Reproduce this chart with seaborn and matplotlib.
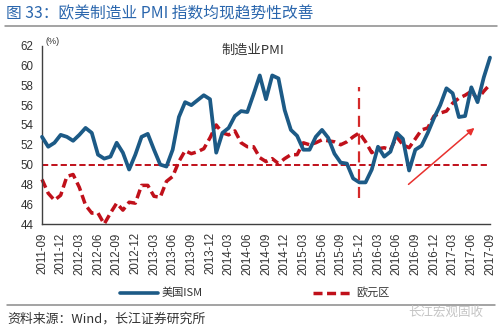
import numpy as np
import pandas as pd
import matplotlib
matplotlib.use("Agg")
import matplotlib.pyplot as plt
from matplotlib.lines import Line2D
import seaborn as sns

# Monthly manufacturing PMI, 2011-09 .. 2017-09
months = pd.date_range("2011-09-01", periods=73, freq="MS").strftime("%Y-%m").tolist()

us_ism = [52.8, 51.8, 52.2, 53.0, 52.8, 52.4, 53.0, 53.7, 53.2, 51.0,
          50.6, 50.8, 52.2, 51.2, 49.5, 51.0, 52.8, 53.1, 51.5, 50.0,
          49.8, 51.5, 54.8, 56.3, 56.0, 56.5, 57.0, 56.6, 51.2, 53.2,
          53.7, 54.9, 55.4, 55.3, 57.1, 59.0, 56.6, 59.0, 58.7, 55.5,
          53.5, 52.9, 51.5, 51.5, 52.8, 53.5, 52.7, 51.1, 50.2, 50.1,
          48.6, 48.2, 48.2, 49.5, 51.8, 50.8, 51.3, 53.2, 52.6, 49.4,
          51.5, 51.9, 53.2, 54.7, 56.0, 57.7, 57.2, 54.8, 54.9, 57.8,
          56.3, 58.8, 60.8]

eurozone = [48.5, 47.1, 46.4, 46.9, 48.8, 49.0, 47.7, 45.9, 45.1, 45.1,
            44.0, 45.1, 46.1, 45.4, 46.2, 46.1, 47.9, 47.9, 46.8, 46.7,
            48.3, 48.8, 50.3, 51.4, 51.1, 51.3, 51.6, 52.7, 54.0, 53.2,
            53.0, 53.4, 52.2, 51.8, 51.8, 50.7, 50.3, 50.6, 50.1, 50.6,
            51.0, 51.0, 52.2, 52.0, 52.2, 52.5, 52.4, 52.3, 52.0, 52.3,
            52.8, 53.2, 52.3, 51.2, 51.6, 51.7, 51.5, 52.8, 52.0, 51.7,
            52.6, 53.5, 53.7, 54.9, 55.2, 55.4, 56.2, 56.7, 57.0, 57.4,
            56.6, 57.4, 58.1]

tick_labels = months[::3]
y_ticks = list(range(44, 63, 2))
series_names = ["美国ISM", "欧元区"]
marker_month = "2015-12"

df = pd.DataFrame({"month": months, "ism": us_ism, "ez": eurozone})
df["idx"] = np.arange(len(df))

sns.set_style("white")
plt.rcParams["font.family"] = ["Liberation Sans", "Noto Sans CJK SC", "DejaVu Sans"]
CJK = ["Noto Sans CJK SC", "Liberation Sans", "DejaVu Sans"]

BLUE = "#1c5a86"
RED = "#c0101a"
AXC = "#404040"
EZ_DASH = (2.6, 1.3)

fig = plt.figure(figsize=(5.0, 3.32), dpi=100)
ax = fig.add_axes([0.084, 0.3253, 0.896, 0.537])

# reference line at 50
ax.axhline(50, color=RED, lw=1.4, dashes=(3.2, 1.6), zorder=1)

sns.lineplot(data=df, x="idx", y="ism", ax=ax, color=BLUE, lw=2.7,
             solid_joinstyle="round", solid_capstyle="round", zorder=3,
             clip_on=False)
sns.lineplot(data=df, x="idx", y="ez", ax=ax, color=RED, lw=2.5,
             dashes=False, zorder=2, clip_on=False)
ax.lines[-1].set_dashes(EZ_DASH)

# vertical marker at 2015-12
xm = months.index(marker_month)
ax.plot([xm, xm], [46.6, 57.8], color="#d42a2a", lw=1.6, dashes=(5, 3), zorder=4)

# upward trend arrow
ax.annotate("", xy=(69.5, 53.7), xytext=(58.9, 48.0),
            arrowprops=dict(arrowstyle="-|>", color="#e8312e", lw=1.1,
                            mutation_scale=10, shrinkA=0, shrinkB=0),
            zorder=5)

ax.set_xlim(0, 72)
ax.set_ylim(44, 62)
ax.set_xticks(np.arange(0, 73, 3))
ax.set_xticklabels(tick_labels, rotation=90, fontsize=8.3, color="#333333")
ax.set_yticks(y_ticks)
ax.set_yticklabels([str(v) for v in y_ticks], fontsize=8.3, color="#333333")
ax.set_xlabel("")
ax.set_ylabel("")
for s in ["top", "right"]:
    ax.spines[s].set_visible(False)
for s in ["left", "bottom"]:
    ax.spines[s].set_color(AXC)
    ax.spines[s].set_linewidth(1.0)
ax.tick_params(axis="both", direction="out", length=4, width=1.0,
               color=AXC, pad=2)

ax.text(0.008, 1.0, "(%)", transform=ax.transAxes, fontsize=6.5,
        color="#333333", va="bottom", ha="left")
ax.text(0.47, 0.975, "制造业PMI", transform=ax.transAxes, fontsize=9.5,
        color="#333333", va="center", ha="center", family=CJK)

# header
fig.text(0.012, 1 - 13.5 / 332, "图 33：欧美制造业 PMI 指数均现趋势性改善",
         fontsize=11.3, color="#2a66ad", va="center", ha="left", family=CJK)
fig.add_artist(Line2D([0.01, 0.994], [1 - 25.5 / 332] * 2, color="#8a8a8a",
                      lw=1.1, transform=fig.transFigure))

# legend
ly = 1 - 292.5 / 332
fig.add_artist(Line2D([120 / 500, 158 / 500], [ly, ly], color=BLUE, lw=2.6,
                      transform=fig.transFigure))
fig.text(162 / 500, ly, series_names[0], fontsize=8, color="#333333",
         va="center", ha="left", family=CJK)
fig.add_artist(Line2D([313 / 500, 353 / 500], [ly, ly], color=RED, lw=2.5,
                      dashes=EZ_DASH, transform=fig.transFigure))
fig.text(356 / 500, ly, series_names[1], fontsize=8, color="#333333",
         va="center", ha="left", family=CJK)

# footer
fig.add_artist(Line2D([0.014, 0.99], [1 - 305 / 332] * 2, color="#8a8a8a",
                      lw=1.1, transform=fig.transFigure))
fig.text(0.014, 1 - 319 / 332, "资料来源：Wind，长江证券研究所",
         fontsize=9.3, color="#333333", va="center", ha="left", family=CJK)
fig.text(0.966, 1 - 312 / 332, "长江宏观固收", fontsize=9, color="#c4c4c4",
         va="center", ha="right", family=CJK)

fig.savefig("out.png", dpi=100)
